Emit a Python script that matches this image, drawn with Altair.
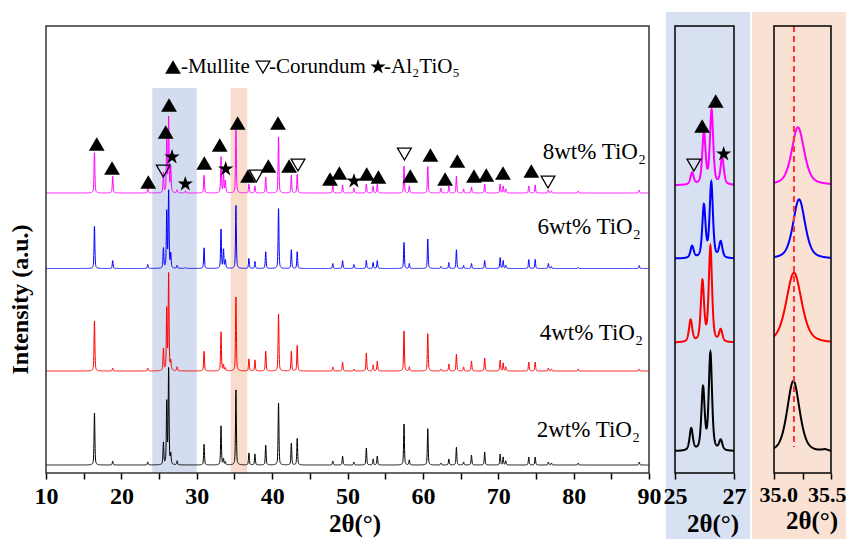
import numpy as np
import pandas as pd
import altair as alt

# ---------------- data ----------------
SAMPLES = ["2wt% TiO₂", "4wt% TiO₂", "6wt% TiO₂", "8wt% TiO₂"]
COLORS = ["#000000", "#ff0000", "#0000ff", "#ff00ff"]

# main pattern: peak positions (2theta) and heights per sample
peak_pos = [16.43, 18.85, 23.5, 25.58, 26.02, 26.27, 26.55, 27.4, 28.5, 30.97,
            33.22, 33.55, 33.8, 35.2, 36.92, 37.72, 39.15, 40.85, 42.55, 43.33,
            48.05, 49.35, 50.85, 52.5, 53.4, 53.95, 57.5, 58.2, 60.65, 62.4,
            63.45, 64.45, 65.4, 66.45, 68.2, 70.25, 70.65, 71.0, 74.05, 74.9,
            76.65, 77.05, 80.6, 88.7]
h_2wt = [53, 4, 3, 22, 62, 97, 10, 4, 0, 21, 39, 6, 3, 75, 12, 11, 20, 63, 22, 27,
         4, 9, 3, 17, 6, 9, 41, 5, 37, 2, 6, 18, 3, 10, 13, 11, 8, 4, 8, 8, 3, 2, 2, 3]
h_4wt = [51, 3, 3, 22, 61, 98, 9, 4, 0, 20, 39, 6, 3, 74, 12, 11, 20, 58, 20, 26,
         4, 9, 2, 18, 6, 10, 40, 4, 38, 2, 7, 17, 4, 10, 13, 11, 8, 4, 9, 9, 3, 2, 2, 2]
h_6wt = [43, 8, 4, 20, 56, 78, 14, 3, 1, 21, 39, 19, 8, 63, 10, 7, 17, 61, 19, 17,
         5, 8, 4, 8, 6, 8, 26, 5, 30, 2, 6, 19, 3, 5, 8, 11, 8, 3, 9, 9, 5, 2, 1, 3]
h_8wt = [41, 17, 5, 20, 53, 76, 25, 3, 2, 18, 36, 20, 12, 63, 9, 7, 16, 57, 18, 19,
         8, 8, 5, 9, 7, 9, 27, 7, 27, 5, 7, 17, 4, 6, 9, 9, 7, 4, 7, 8, 3, 2, 2, 3]
main_offsets = [8, 102, 204.5, 280]
main_fwhm = 0.13

# shaded 2theta windows in main panel
blue_win = [24.1, 30.0]
orange_win = [34.5, 36.7]
win_top = 385

# phase markers on the 8wt% pattern
mull_x = [16.73, 18.76, 23.57, 25.88, 26.32, 31.0, 33.05, 35.43, 36.8, 39.5, 40.78,
          42.25, 47.68, 48.92, 52.55, 54.1, 58.33, 61.0, 62.95, 64.57, 66.78, 68.41,
          70.63, 74.39]
mull_y = [329, 305, 291, 341, 368, 310, 328, 350, 297, 307, 350,
          307, 294, 300, 299, 296, 297, 318, 294, 312, 297, 298,
          300, 302]
cor_x = [25.56, 37.9, 43.43, 57.55, 76.6]
cor_y = [302, 297, 308, 319, 291]
at_x = [26.72, 28.48, 33.84, 50.86]
at_y = [316, 289, 304, 292]

# legend line
leg_mark_x = [26.85, 38.79, 54.05]
leg_text_x = [27.9, 39.6, 54.85]
leg_y = 406
leg_text = ["-Mullite", "-Corundum", "-Al₂TiO₅"]

# sample labels
lab_x = [88.8, 89.2, 88.9, 89.6]
lab_y = [43, 140, 246, 321]

# zoom panel 25-27
z1_pos = {"2wt% TiO₂": [25.55, 25.95, 26.2, 26.55],
          "4wt% TiO₂": [25.53, 25.93, 26.2, 26.55],
          "6wt% TiO₂": [25.58, 25.98, 26.23, 26.55],
          "8wt% TiO₂": [25.58, 25.98, 26.24, 26.6]}
z1_h = {"2wt% TiO₂": [22, 62, 97, 10],
        "4wt% TiO₂": [22, 60, 95, 12],
        "6wt% TiO₂": [12, 52, 75, 16],
        "8wt% TiO₂": [12, 52, 74, 27]}
z1_offsets = [21.7, 130.3, 214.3, 287.7]
z1_fwhm = 0.13
z1_mull_x = [25.92, 26.38]
z1_mull_y = [347, 372]
z1_cor_x = [25.64]
z1_cor_y = [308]
z1_at_x = [26.65]
z1_at_y = [319]

# zoom panel 35.0-35.5
z2_pos = {"2wt% TiO₂": [35.17, 35.45], "4wt% TiO₂": [35.175],
          "6wt% TiO₂": [35.22], "8wt% TiO₂": [35.21]}
z2_h = {"2wt% TiO₂": [72, 2], "4wt% TiO₂": [71],
        "6wt% TiO₂": [60], "8wt% TiO₂": [58]}
z2_w = {"2wt% TiO₂": [0.13, 0.08], "4wt% TiO₂": [0.16],
        "6wt% TiO₂": [0.125], "8wt% TiO₂": [0.13]}
z2_offsets = [20, 129.3, 213.7, 287.7]
z2_ref = [35.175]

STAR = ("M0,-1L0.225,-0.309L0.951,-0.309L0.363,0.118L0.588,0.809L0,0.382"
        "L-0.588,0.809L-0.363,0.118L-0.951,-0.309L-0.225,-0.309Z")


def profile(x, centers, heights, widths, eta=0.5):
    y = np.zeros_like(x)
    for c, h, w in zip(centers, heights, widths):
        d = (x - c) / (w / 2.0)
        y += h * (eta / (1 + d ** 2) + (1 - eta) * np.exp(-np.log(2) * d ** 2))
    return y


# ---------------- tables ----------------
xm = np.round(np.arange(10, 90.0001, 0.02), 3)
rows = []
for s, off, hs in zip(SAMPLES, main_offsets, [h_2wt, h_4wt, h_6wt, h_8wt]):
    yy = off + profile(xm, peak_pos, hs, [main_fwhm] * len(peak_pos))
    rows.append(pd.DataFrame({"x": xm, "y": np.round(yy, 2), "sample": s}))
df_main = pd.concat(rows, ignore_index=True)

xz1 = np.round(np.linspace(25, 27, 401), 4)
rows = []
for s, off in zip(SAMPLES, z1_offsets):
    yy = off + profile(xz1, z1_pos[s], z1_h[s], [z1_fwhm] * 4)
    rows.append(pd.DataFrame({"x": xz1, "y": np.round(yy, 2), "sample": s}))
df_z1 = pd.concat(rows, ignore_index=True)

xz2 = np.round(np.linspace(35.0, 35.5, 251), 4)
rows = []
for s, off in zip(SAMPLES, z2_offsets):
    yy = off + profile(xz2, z2_pos[s], z2_h[s], z2_w[s])
    rows.append(pd.DataFrame({"x": xz2, "y": np.round(yy, 2), "sample": s}))
df_z2 = pd.concat(rows, ignore_index=True)

one = pd.DataFrame({"k": [0]})

# ---------------- layout ----------------
W1, W2, W3, H = 603, 59, 57, 447
SERIF = "Liberation Serif"
YDOM = [0, 447]

color_enc = alt.Color("sample:N", scale=alt.Scale(domain=SAMPLES, range=COLORS), legend=None)

AX = dict(labelFont=SERIF, titleFont=SERIF, labelFontWeight="bold", titleFontWeight="bold",
          titleFontSize=25, labelColor="black", titleColor="black",
          tickColor="black", tickWidth=1.5, tickSize=6, domain=False, grid=False,
          zindex=2, labelPadding=5, titlePadding=3, labelOverlap=False)

ax_main = alt.Axis(title="2θ(°)", values=list(range(10, 95, 5)),
                   labelExpr="datum.value % 10 === 0 ? datum.label : ''",
                   titleX=W1 / 2 + 7, labelFlush=False, labelFontSize=24, **AX)
ax_z1 = alt.Axis(title="2θ(°)", values=[25, 26, 27], format="d",
                 labelExpr="datum.value === 26 ? '' : datum.label",
                 titleX=W2 / 2 + 8, labelFlush=False, labelFontSize=24, **AX)
ax_z2 = alt.Axis(title="2θ(°)", values=[35.0, 35.25, 35.5], format=".1f",
                 labelExpr="datum.value === 35.25 ? '' : datum.label",
                 labelFlush=True, labelFlushOffset=15, labelFontSize=22,
                 titleX=W3 / 2 + 9, **AX)
ay_main = alt.Axis(title="Intensity (a.u.)", labels=False, ticks=False, domain=False, grid=False,
                   titleFont=SERIF, titleFontWeight="bold", titleColor="black",
                   titleFontSize=24, titlePadding=14, titleY=273)


def X(field, dom, axis):
    return alt.X(f"{field}:Q", scale=alt.Scale(domain=dom, nice=False, zero=False), axis=axis)


def Y(field, axis=None):
    return alt.Y(f"{field}:Q", scale=alt.Scale(domain=YDOM, nice=False, zero=False), axis=axis)


def box(x1, x2, y1, y2, **kw):
    return alt.Chart(one).mark_rect(**kw).encode(
        x=alt.value(x1), x2=alt.value(x2), y=alt.value(y1), y2=alt.value(y2))


def markers(xs, ys, dom, axis, yaxis=None):
    d_up = pd.DataFrame({"x": xs[0], "y": ys[0]})
    d_dn = pd.DataFrame({"x": xs[1], "y": ys[1]})
    d_st = pd.DataFrame({"x": xs[2], "y": ys[2]})
    up = alt.Chart(d_up).mark_point(shape="triangle-up", filled=True, color="black",
                                    opacity=1, size=250).encode(
        x=X("x", dom, axis), y=Y("y", yaxis))
    dn = alt.Chart(d_dn).mark_point(shape="triangle-down", filled=False, color="black",
                                    opacity=1, strokeWidth=1.3, size=190).encode(
        x=X("x", dom, axis), y=Y("y", yaxis))
    st = alt.Chart(d_st).mark_point(shape=STAR, filled=True, color="black",
                                    opacity=1, size=260).encode(
        x=X("x", dom, axis), y=Y("y", yaxis))
    return [up, dn, st]


def window(win, col):
    d = pd.DataFrame({"x1": [win[0]], "x2": [win[1]], "y1": [0], "y2": [win_top]})
    return alt.Chart(d).mark_rect(color=col).encode(
        x=X("x1", MD, ax_main), x2="x2", y=Y("y1", ay_main), y2="y2")


# main panel
MD = [10, 90]
lines_main = alt.Chart(df_main).mark_line(strokeWidth=1).encode(
    x=X("x", MD, ax_main), y=Y("y", ay_main), color=color_enc, detail="sample:N")
mk_main = markers([mull_x + [leg_mark_x[0]], cor_x + [leg_mark_x[1]], at_x + [leg_mark_x[2]]],
                  [mull_y + [leg_y], cor_y + [leg_y], at_y + [leg_y]], MD, ax_main, ay_main)
df_leg = pd.DataFrame({"x": leg_text_x, "y": [leg_y] * 3, "t": leg_text})
leg_txt = alt.Chart(df_leg).mark_text(align="left", baseline="middle", font=SERIF,
                                      fontSize=21, color="black").encode(
    x=X("x", MD, ax_main), y=Y("y", ay_main), text="t:N")
df_lab = pd.DataFrame({"x": lab_x, "y": lab_y, "t": SAMPLES})
lab_txt = alt.Chart(df_lab).mark_text(align="right", baseline="middle", font=SERIF,
                                      fontSize=23, color="black").encode(
    x=X("x", MD, ax_main), y=Y("y", ay_main), text="t:N")
main = alt.layer(
    box(0, W1 + 14, -14, H + 70, opacity=0),
    window(blue_win, "#d3ddef"), window(orange_win, "#f8ddcd"),
    lines_main, *mk_main, leg_txt, lab_txt,
    box(0, W1, 0, H, fillOpacity=0, stroke="#333333", strokeWidth=1.5),
).properties(width=W1, height=H)

# zoom panel 1 (25-27)
D1 = [25, 27]
lines_z1 = alt.Chart(df_z1).mark_line(strokeWidth=2).encode(
    x=X("x", D1, ax_z1), y=Y("y"), color=color_enc, detail="sample:N")
mk_z1 = markers([z1_mull_x, z1_cor_x, z1_at_x], [z1_mull_y, z1_cor_y, z1_at_y], D1, ax_z1)
p1 = alt.layer(
    box(-12, W2 + 18, -14, H + 70, opacity=0),
    box(-9, W2 + 16, -14, H + 70, color="#d7e1f1"),
    lines_z1, *mk_z1,
    box(0, W2, 0, H, fillOpacity=0, stroke="black", strokeWidth=1.5),
).properties(width=W2, height=H)

# zoom panel 2 (35.0-35.5)
D2 = [35.0, 35.5]
lines_z2 = alt.Chart(df_z2).mark_line(strokeWidth=2).encode(
    x=X("x", D2, ax_z2), y=Y("y"), color=color_enc, detail="sample:N")
rule = alt.Chart(pd.DataFrame({"x": z2_ref})).mark_rule(
    color="#ff3333", strokeDash=[6, 4], strokeWidth=2).encode(
    x=X("x", D2, ax_z2), y=alt.value(0), y2=alt.value(421))
p2 = alt.layer(
    box(-22, W3 + 15, -14, H + 70, color="#f9e2d4"),
    lines_z2, rule,
    box(0, W3, 0, H, fillOpacity=0, stroke="black", strokeWidth=1.5),
).properties(width=W3, height=H)

chart = alt.hconcat(main, p1, p2, spacing=0).resolve_scale(
    x="independent", y="independent"
).properties(
    padding={"left": 0, "top": 4, "right": 0, "bottom": 0}
).configure_view(stroke=None)

chart.save("out.html", embed_options={"renderer": "svg", "actions": False})
